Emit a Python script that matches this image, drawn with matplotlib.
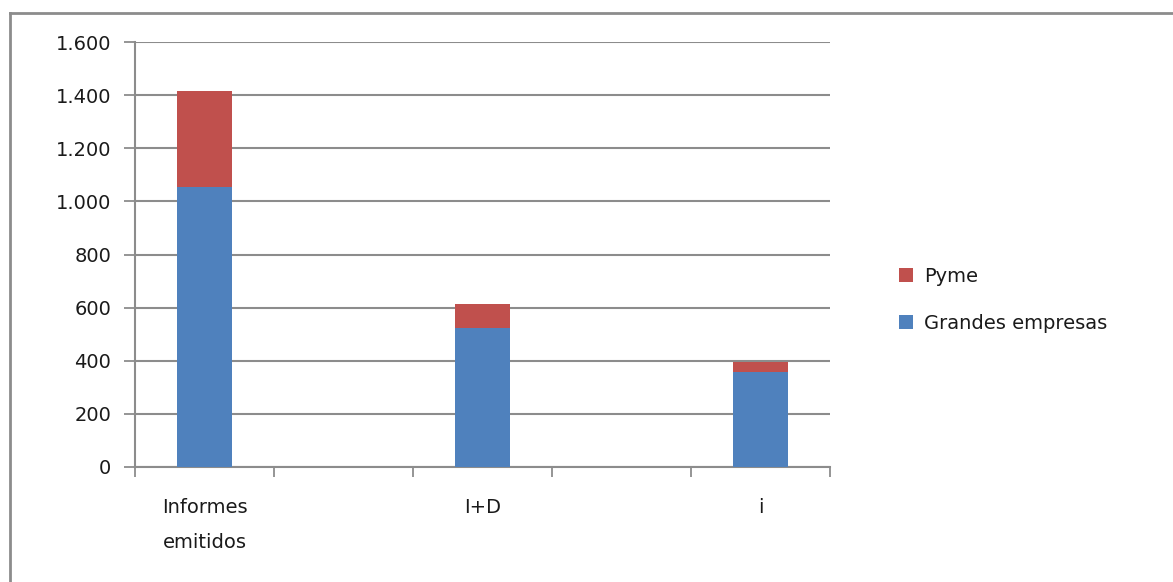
import matplotlib
matplotlib.use("Agg")
import matplotlib.pyplot as plt
import numpy as np
from matplotlib.lines import Line2D
from matplotlib.ticker import FuncFormatter

categories = ["Informes\nemitidos", "", "I+D", "", "i"]
grandes = [1055, np.nan, 522, np.nan, 356]
pyme = [360, np.nan, 90, np.nan, 40]
yticks = [0, 200, 400, 600, 800, 1000, 1200, 1400, 1600]

BLUE = "#4F81BD"
RED = "#C0504D"
GRID = "#8C8C8C"
TXT = "#1a1a1a"
FS = 14

fig = plt.figure(figsize=(11.73, 5.82), dpi=100)
ax = fig.add_axes([135/1173, 1-467/582, (830-135)/1173, (467-42)/582])

x = np.arange(len(categories))
g = np.array(grandes, dtype=float)
p = np.array(pyme, dtype=float)
ax.bar(x, g, width=0.39, color=BLUE, label="Grandes empresas", zorder=3)
ax.bar(x, p, bottom=g, width=0.39, color=RED, label="Pyme", zorder=3)

ax.set_xlim(-0.5, len(categories) - 0.5)
ax.set_ylim(0, 1600)
ax.set_yticks(yticks)
ax.yaxis.set_major_formatter(FuncFormatter(lambda v, _: f"{int(v):,}".replace(",", ".")))
ax.yaxis.grid(True, color=GRID, linewidth=1.5, zorder=0)
ax.tick_params(axis="y", length=8, width=1.3, color=GRID, labelsize=FS, labelcolor=TXT, pad=9)

ax.set_xticks(np.arange(len(categories) + 1) - 0.5)
ax.set_xticklabels([])
ax.tick_params(axis="x", which="major", length=7, width=1.3, color=GRID)
ax.set_xticks(x, minor=True)
ax.set_xticklabels(categories, minor=True, fontsize=FS, color=TXT, linespacing=2.1)
ax.tick_params(axis="x", which="minor", length=0, pad=22)

for s in ["top", "right"]:
    ax.spines[s].set_visible(False)
for s in ["left", "bottom"]:
    ax.spines[s].set_color(GRID)
    ax.spines[s].set_linewidth(1.5)

h, l = ax.get_legend_handles_labels()
leg = fig.legend(h[::-1], l[::-1], loc="center left",
                 bbox_to_anchor=(882/1173, 1-300/582), frameon=False,
                 fontsize=FS, labelspacing=1.45, handlelength=0.72,
                 handleheight=0.72, handletextpad=0.55)
for t in leg.get_texts():
    t.set_color(TXT)

fig.add_artist(Line2D([10/1173, 1], [1-13/582, 1-13/582], color=GRID, linewidth=2, transform=fig.transFigure))
fig.add_artist(Line2D([10/1173, 10/1173], [0, 1-13/582], color=GRID, linewidth=2, transform=fig.transFigure))

fig.savefig("out.png", dpi=100)
